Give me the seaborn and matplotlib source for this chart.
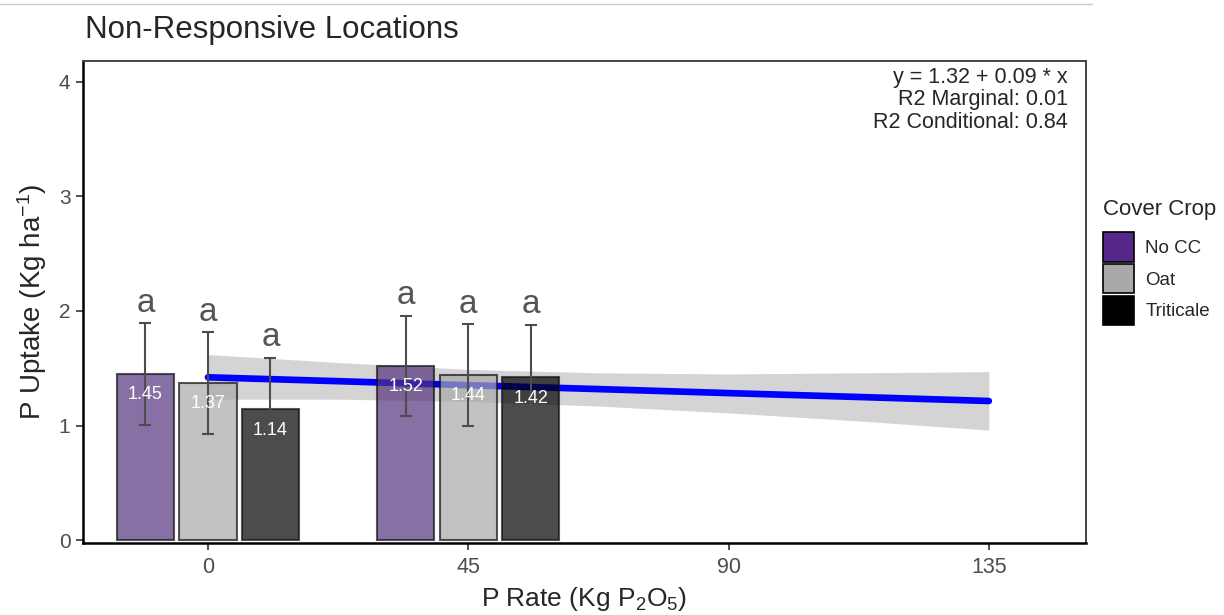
import numpy as np
import pandas as pd
import matplotlib
matplotlib.use("Agg")
import matplotlib.pyplot as plt
import seaborn as sns
from matplotlib.patches import Patch
from matplotlib.lines import Line2D

# --- data ---
p_rate = [0, 45]
crops = ["No CC", "Oat", "Triticale"]
uptake_0 = [1.45, 1.37, 1.14]
uptake_45 = [1.52, 1.44, 1.42]
se_0 = [0.445, 0.445, 0.45]
se_45 = [0.44, 0.445, 0.46]
letters_0 = ["a", "a", "a"]
letters_45 = ["a", "a", "a"]

# fitted mixed-model line and its confidence band
fit_x = [0, 22.5, 45, 67.5, 90, 112.5, 135]
fit_y = [1.421, 1.387, 1.352, 1.318, 1.283, 1.249, 1.214]
fit_lo = [1.23, 1.23, 1.21, 1.17, 1.11, 1.04, 0.96]
fit_hi = [1.62, 1.55, 1.49, 1.46, 1.45, 1.46, 1.47]

eq_text = "y = 1.32 + 0.09 * x\nR2 Marginal: 0.01\nR2 Conditional: 0.84"
crop_colors = ["#542788", "#A9A9A9", "#000000"]

df = pd.DataFrame({
    "rate": np.repeat(p_rate, len(crops)),
    "crop": crops * len(p_rate),
    "uptake": uptake_0 + uptake_45,
    "se": se_0 + se_45,
    "letter": letters_0 + letters_45,
})

sns.set_style("white")
plt.rcParams["font.family"] = ["Liberation Sans", "DejaVu Sans"]
plt.rcParams["mathtext.fontset"] = "custom"
plt.rcParams["mathtext.rm"] = "Liberation Sans"
plt.rcParams["mathtext.it"] = "Liberation Sans"

fig = plt.figure(figsize=(12.24, 6.15), dpi=100)
ax = fig.add_axes([83 / 1224, 1 - 543 / 615, (1086 - 83) / 1224, (543 - 61) / 615])

# regression band + line (under the bars)
ax.fill_between(fit_x, fit_lo, fit_hi, color="#D4D4D4", lw=0, zorder=1)
sns.lineplot(x=fit_x, y=fit_y, color="#0000FF", lw=4.8, ax=ax, zorder=1.5)

# bars
sns.barplot(data=df, x="rate", y="uptake", hue="crop", hue_order=crops,
            palette=crop_colors, native_scale=True, width=0.72, gap=0.083,
            errorbar=None, edgecolor="#111111", linewidth=1.5, alpha=0.7,
            legend=False, zorder=2, ax=ax)

# error bars, value labels and letters on each bar
for p in ax.patches:
    cx = p.get_x() + p.get_width() / 2
    h = p.get_height()
    rate = min(p_rate, key=lambda r: abs(r - cx))
    row = df[(df["rate"] == rate) & (np.isclose(df["uptake"], h))].iloc[0]
    ax.errorbar(cx, h, yerr=row["se"], fmt="none", ecolor="#4D4D4D",
                elinewidth=1.5, capsize=4.5, capthick=1.5, zorder=3)
    ax.text(cx, h - 0.18, f"{h:.2f}", color="white", ha="center",
            va="center", fontsize=13, zorder=4)
    ax.text(cx, h + row["se"] + 0.1, row["letter"], color="#555555",
            ha="center", va="baseline", fontsize=24, zorder=4)

ax.set_xlim(-21.6, 151.8)
ax.set_ylim(-0.026, 4.183)
ax.set_xticks([0, 45, 90, 135])
ax.set_yticks([0, 1, 2, 3, 4])
ax.tick_params(bottom=True, left=True, length=5, width=1.2, color="#333333",
               labelcolor="#4D4D4D")
ax.tick_params(axis="x", labelsize=15.5, pad=5)
ax.tick_params(axis="y", labelsize=15, pad=4)
ax.set_xlabel(r"P Rate (Kg P$_2$O$_5$)", fontsize=19, labelpad=5)
ax.set_ylabel(r"P Uptake (Kg ha$^{-1}$)", fontsize=20, labelpad=7)

for side in ["left", "bottom"]:
    ax.spines[side].set_color("black")
    ax.spines[side].set_linewidth(1.8)
for side in ["top", "right"]:
    ax.spines[side].set_color("#444444")
    ax.spines[side].set_linewidth(1.4)

ax.text(0.982, 0.988, eq_text, transform=ax.transAxes, ha="right", va="top",
        fontsize=15.5, linespacing=1.1)

fig.text(85 / 1224, 1 - 30 / 615, "Non-Responsive Locations", fontsize=22.5,
         va="center", ha="left")

# legend: title as its own text, keys below
fig.text(1103 / 1224, 1 - 209 / 615, "Cover Crop", fontsize=16,
         va="center", ha="left")
handles = [Patch(facecolor=c, edgecolor="black", linewidth=1.2) for c in crop_colors]
fig.legend(handles, crops, loc="upper left",
           bbox_to_anchor=(1103 / 1224, 1 - 232 / 615), frameon=False,
           fontsize=13.5, handlelength=1.65, handleheight=2.05,
           labelspacing=0.12, handletextpad=0.6, borderpad=0,
           borderaxespad=0)

# thin page line at the top, as in the screenshot
fig.add_artist(Line2D([0, 1092 / 1224], [1 - 4 / 615, 1 - 4 / 615],
                      color="#CCCCCC", lw=1))

fig.savefig("out.png", dpi=100)
